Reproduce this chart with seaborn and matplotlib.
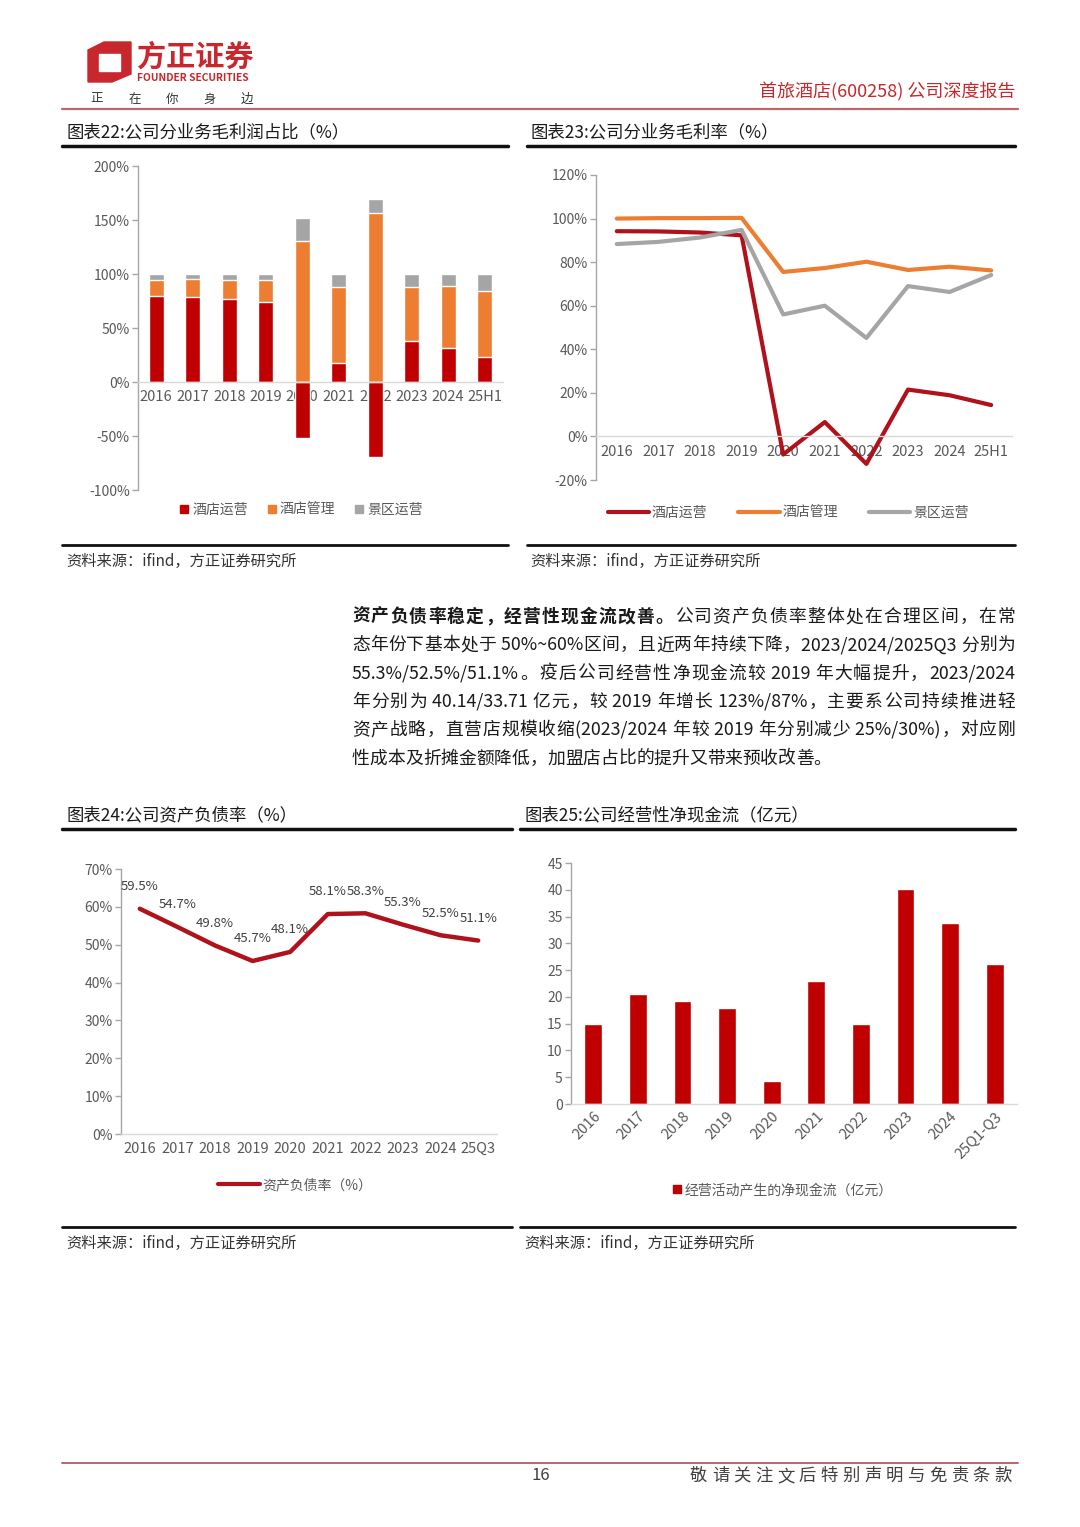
import re
import numpy as np
import pandas as pd
import matplotlib
matplotlib.use('Agg')
import matplotlib.pyplot as plt
import seaborn as sns
from matplotlib.lines import Line2D
from matplotlib.patches import Polygon
from matplotlib.ticker import FuncFormatter

# ---- data ----
years = ['2016', '2017', '2018', '2019', '2020', '2021', '2022', '2023', '2024', '25H1']

# chart 22: share of gross profit by segment (%)
gp_hotel_ops = [79.3, 78.4, 76.5, 74.0, -52.0, 17.6, -69.4, 38.3, 31.8, 22.8]
gp_hotel_mgmt = [15.5, 16.6, 18.3, 20.4, 131.0, 70.7, 156.5, 50.0, 56.8, 61.5]
gp_scenic = [5.2, 5.0, 5.2, 5.6, 21.0, 11.7, 12.9, 11.7, 11.4, 15.7]

# chart 23: gross margin by segment (%)
gm_hotel_ops = [94.2, 94.1, 93.6, 92.3, -8.3, 6.6, -12.6, 21.5, 18.9, 14.4]
gm_hotel_mgmt = [100.0, 100.2, 100.2, 100.3, 75.5, 77.3, 80.2, 76.4, 77.9, 76.2]
gm_scenic = [88.3, 89.3, 91.3, 94.8, 56.0, 60.0, 45.2, 69.0, 66.3, 74.1]

# chart 24: debt-to-asset ratio (%)
debt_years = ['2016', '2017', '2018', '2019', '2020', '2021', '2022', '2023', '2024', '25Q3']
debt_ratio = [59.5, 54.7, 49.8, 45.7, 48.1, 58.1, 58.3, 55.3, 52.5, 51.1]

# chart 25: operating net cash flow (100m CNY)
cf_years = ['2016', '2017', '2018', '2019', '2020', '2021', '2022', '2023', '2024', '25Q1-Q3']
op_cash_flow = [14.9, 20.6, 19.2, 18.0, 4.3, 23.0, 14.9, 40.14, 33.71, 26.2]

seg_names = ['酒店运营', '酒店管理', '景区运营']

RED = '#C00000'
LINE_RED = '#B0121B'
ORANGE = '#ED7D31'
GRAY = '#A5A5A5'
TICK = '#595959'
BRAND = '#C8282D'

sns.set_theme(style='white')
plt.rcParams['font.family'] = ['Noto Sans CJK SC', 'DejaVu Sans']
plt.rcParams['axes.unicode_minus'] = False

W, H = 1080, 1527
fig = plt.figure(figsize=(W / 100, H / 100), dpi=100)
fig.patch.set_facecolor('white')


def fy(y):
    return 1 - y / H


def add_ax(l, t, r, b):
    return fig.add_axes([l / W, 1 - b / H, (r - l) / W, (b - t) / H])


def hline(x0, x1, y, color='#111111', lw=2.5):
    fig.add_artist(Line2D([x0 / W, x1 / W], [fy(y), fy(y)], color=color, lw=lw))


def style_axis(ax):
    for s in ['top', 'right']:
        ax.spines[s].set_visible(False)
    ax.spines['left'].set_color('#A6A6A6')
    ax.spines['bottom'].set_color('#D9D9D9')
    ax.spines['left'].set_linewidth(1)
    ax.spines['bottom'].set_linewidth(1)
    ax.tick_params(axis='y', left=True, length=4, width=1, color='#A6A6A6',
                   labelcolor=TICK, labelsize=10, pad=2)
    ax.tick_params(axis='x', bottom=False, length=0, labelcolor=TICK, labelsize=10.5, pad=6)
    ax.set_xlabel('')
    ax.set_ylabel('')
    ax.set_facecolor('none')


pct = FuncFormatter(lambda v, p: f'{v:.0f}%')


def put_line(segs, y, x0, x1, size, justify=True, color='#1a1a1a'):
    # spread the pieces of one line evenly between x0 and x1 (pixels)
    r = fig.canvas.get_renderer()
    items = []
    for s, w in segs:
        for tok in re.findall(r'[ -~]+|.', s):
            items.append(fig.text(0, fy(y), tok, fontsize=size, weight=w,
                                  va='center', ha='left', color=color))
    widths = [t.get_window_extent(r).width for t in items]
    gap = (x1 - x0 - sum(widths)) / max(len(items) - 1, 1) if justify else 0
    x = x0
    for t, w in zip(items, widths):
        t.set_x(x / W)
        x += w + gap


# ---- page header ----
fig.add_artist(Polygon([(88 / W, fy(50)), (104 / W, fy(42)), (131 / W, fy(42)), (131 / W, fy(74)),
                        (112 / W, fy(82)), (88 / W, fy(82))], closed=True, color=BRAND,
                       transform=fig.transFigure))
fig.add_artist(Polygon([(99 / W, fy(54)), (120 / W, fy(54)), (120 / W, fy(71)), (99 / W, fy(71))],
                       closed=True, color='white', transform=fig.transFigure))
fig.text(137 / W, fy(57), '方正证券', fontsize=21, weight='bold', color=BRAND, va='center', ha='left')
fig.text(137 / W, fy(78), 'FOUNDER SECURITIES', fontsize=7.4, weight='bold', color=BRAND,
         va='center', ha='left')
for i, ch in enumerate('正在你身边'):
    fig.text((97 + i * 37.6) / W, fy(99), ch, fontsize=9, color='#333333', va='center', ha='center')
fig.text(1015 / W, fy(92), '首旅酒店(600258) 公司深度报告', fontsize=13, color=BRAND,
         va='center', ha='right')
hline(62, 1018, 109, color='#B9676B', lw=1.6)

# ---- chart titles and frame lines ----
fig.text(66 / W, fy(132), '图表22:公司分业务毛利润占比（%）', fontsize=12.5, color='#1a1a1a',
         va='center', ha='left')
fig.text(530 / W, fy(132), '图表23:公司分业务毛利率（%）', fontsize=12.5, color='#1a1a1a',
         va='center', ha='left')
hline(62, 508, 146)
hline(527, 1015, 146)
hline(62, 508, 545, lw=2)
hline(527, 1015, 545, lw=2)
src = '资料来源：ifind，方正证券研究所'
fig.text(66 / W, fy(561), src, fontsize=11, color='#333333', va='center', ha='left')
fig.text(530 / W, fy(561), src, fontsize=11, color='#333333', va='center', ha='left')

fig.text(66 / W, fy(815), '图表24:公司资产负债率（%）', fontsize=12.5, color='#1a1a1a',
         va='center', ha='left')
fig.text(524 / W, fy(815), '图表25:公司经营性净现金流（亿元）', fontsize=12.5, color='#1a1a1a',
         va='center', ha='left')
hline(62, 512, 829)
hline(520, 1015, 829)
hline(62, 512, 1227, lw=2)
hline(520, 1015, 1227, lw=2)
fig.text(66 / W, fy(1243), src, fontsize=11, color='#333333', va='center', ha='left')
fig.text(524 / W, fy(1243), src, fontsize=11, color='#333333', va='center', ha='left')

# ---- chart 22: stacked bars ----
ax = add_ax(138, 166, 503, 490)
ops = np.array(gp_hotel_ops)
mgmt_top = np.maximum(ops, 0) + np.array(gp_hotel_mgmt)
scenic_top = mgmt_top + np.array(gp_scenic)
df22 = pd.DataFrame({'year': years, 'ops': ops, 'mgmt_top': mgmt_top, 'scenic_top': scenic_top})
for col, c in [('scenic_top', GRAY), ('mgmt_top', ORANGE), ('ops', RED)]:
    sns.barplot(data=df22, x='year', y=col, color=c, width=0.41, saturation=1, ax=ax)
style_axis(ax)
ax.set_axisbelow(True)
ax.spines['bottom'].set_position(('data', 0))
ax.set_ylim(-100, 200)
ax.set_yticks(np.arange(-100, 201, 50))
ax.yaxis.set_major_formatter(pct)
ax.set_xlim(-0.5, 9.5)
handles = [Line2D([], [], marker='s', ls='none', color=c, markersize=6) for c in (RED, ORANGE, GRAY)]
ax.legend(handles, seg_names, loc='center', bbox_to_anchor=(301 / W, fy(510)),
          bbox_transform=fig.transFigure, ncol=3, frameon=False, fontsize=10,
          labelcolor=TICK, handlelength=0.7, handletextpad=0.2, columnspacing=1.4)

# ---- chart 23: margin lines ----
ax = add_ax(596, 175, 1012, 480)
xpos = np.arange(len(years))
df23 = pd.DataFrame({
    'x': np.tile(xpos, 3),
    'v': gm_hotel_ops + gm_hotel_mgmt + gm_scenic,
    's': np.repeat(seg_names, len(years)),
})
sns.lineplot(data=df23, x='x', y='v', hue='s', hue_order=seg_names,
             palette=[LINE_RED, ORANGE, GRAY], linewidth=3, legend=False, sort=False, ax=ax)
style_axis(ax)
ax.spines['bottom'].set_position(('data', 0))
ax.set_ylim(-20, 120)
ax.set_yticks(np.arange(-20, 121, 20))
ax.yaxis.set_major_formatter(pct)
ax.set_xlim(-0.5, 9.5)
ax.set_xticks(xpos)
ax.set_xticklabels(years)
handles = [Line2D([], [], color=c, lw=3) for c in (LINE_RED, ORANGE, GRAY)]
ax.legend(handles, seg_names, loc='center', bbox_to_anchor=(788 / W, fy(513)),
          bbox_transform=fig.transFigure, ncol=3, frameon=False, fontsize=10,
          labelcolor=TICK, handlelength=3, handletextpad=0.2, columnspacing=2.2)

# ---- paragraph ----
para = [
    ([('资产负债率稳定，经营性现金流改善。', 'bold'), ('公司资产负债率整体处在合理区间，在常', 'normal')], True),
    ([('态年份下基本处于 50%~60%区间，且近两年持续下降，2023/2024/2025Q3 分别为', 'normal')], True),
    ([('55.3%/52.5%/51.1%。疫后公司经营性净现金流较 2019 年大幅提升，2023/2024', 'normal')], True),
    ([('年分别为 40.14/33.71 亿元，较 2019 年增长 123%/87%，主要系公司持续推进轻', 'normal')], True),
    ([('资产战略，直营店规模收缩(2023/2024 年较 2019 年分别减少 25%/30%)，对应刚', 'normal')], True),
    ([('性成本及折摊金额降低，加盟店占比的提升又带来预收改善。', 'normal')], False),
]
for i, (segs, just) in enumerate(para):
    put_line(segs, 617 + i * 28.3, 352, 1015, 12.8, justify=just)

# ---- chart 24: debt ratio ----
ax = add_ax(121, 869, 497, 1134)
dpos = np.arange(len(debt_years))
sns.lineplot(x=dpos, y=debt_ratio, color=LINE_RED, linewidth=3.2, ax=ax)
style_axis(ax)
ax.set_ylim(0, 70)
ax.set_yticks(np.arange(0, 71, 10))
ax.yaxis.set_major_formatter(pct)
ax.set_xlim(-0.5, 9.5)
ax.set_xticks(dpos)
ax.set_xticklabels(debt_years)
for xi, v in zip(dpos, debt_ratio):
    ax.annotate(f'{v}%', (xi, v), xytext=(0, 16), textcoords='offset points',
                ha='center', va='center', fontsize=9.5, color='#404040')
ax.legend([Line2D([], [], color=LINE_RED, lw=3)], ['资产负债率（%）'], loc='center',
          bbox_to_anchor=(295 / W, fy(1185)), bbox_transform=fig.transFigure,
          frameon=False, fontsize=10, labelcolor=TICK, handlelength=3, handletextpad=0.2)

# ---- chart 25: operating cash flow ----
ax = add_ax(571, 863, 1017, 1104)
sns.barplot(x=cf_years, y=op_cash_flow, color=RED, width=0.4, saturation=1, ax=ax)
style_axis(ax)
ax.set_ylim(0, 45)
ax.set_yticks(np.arange(0, 46, 5))
ax.set_xlim(-0.5, 9.5)
for lab in ax.get_xticklabels():
    lab.set_rotation(45)
    lab.set_ha('right')
    lab.set_rotation_mode('anchor')
ax.tick_params(axis='x', pad=4)
ax.legend([Line2D([], [], marker='s', ls='none', color=RED, markersize=6)],
          ['经营活动产生的净现金流（亿元）'], loc='center',
          bbox_to_anchor=(782 / W, fy(1190)), bbox_transform=fig.transFigure,
          frameon=False, fontsize=10, labelcolor=TICK, handlelength=0.7, handletextpad=0.2)

# ---- footer ----
hline(62, 1018, 1463, color='#B9676B', lw=1.4)
fig.text(541 / W, fy(1476), '16', fontsize=12, color='#404040', va='center', ha='center')
put_line([('敬请关注文后特别声明与免责条款', 'normal')], 1476, 690, 1012, 12.5, color='#404040')

fig.savefig('out.png', dpi=100, facecolor='white')
